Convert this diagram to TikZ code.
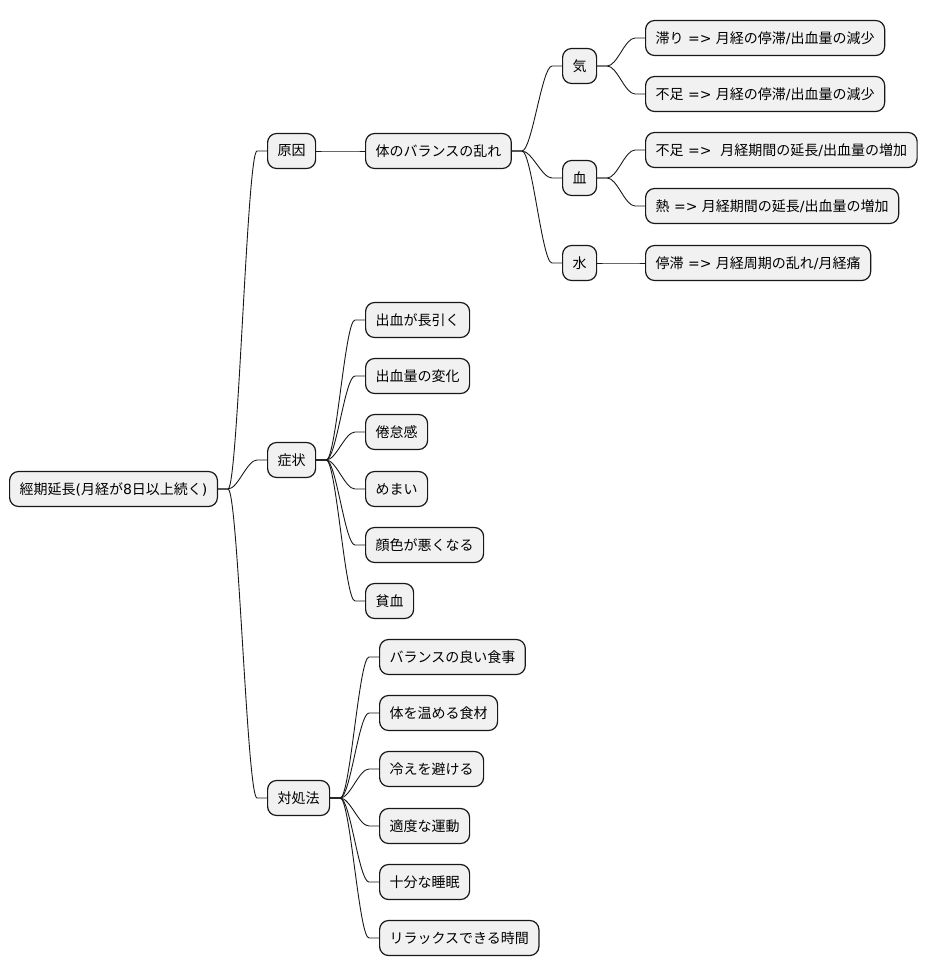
\documentclass[tikz,border=0pt]{standalone}
\usepackage{fontspec}
\setmainfont{Noto Sans CJK JP}
\newfontfamily\latf{DejaVu Sans}
\newcommand\La[1]{{\latf #1}}
\usetikzlibrary{calc}
\definecolor{boxfill}{HTML}{F1F1F1}
\definecolor{boxline}{HTML}{181818}
\tikzset{
  mm/.style={draw=boxline, fill=boxfill, line width=1.2pt, rounded corners=9pt,
    anchor=west, minimum height=35pt, inner xsep=10pt, inner ysep=0pt,
    font=\fontsize{14}{16}\selectfont, text=black},
  edge/.style={draw=boxline, line width=0.9pt}
}
\newcommand\mmedge[2]{%
  \draw[edge] (#1.east) -- ++(10,0) coordinate (tmpa)
    .. controls ($(tmpa)+(10,0)$) and ($(#2.west)+(-20,0)$) .. ($(#2.west)+(-10,0)$)
    -- (#2.west);}
\begin{document}
\begin{tikzpicture}[x=1pt,y=-1pt]
\useasboundingbox (0,0) rectangle (928,978);
% root
\node[mm] (root) at (9,489) {經期延長\La{(}月経が\La{8}日以上続く\La{)}};
% level 1
\node[mm] (gen) at (267,151) {原因};
\node[mm] (sym) at (267,460) {症状};
\node[mm] (tai) at (267,798) {対処法};
% causes
\node[mm] (bal) at (365,151) {体のバランスの乱れ};
\node[mm] (ki) at (562,66) {気};
\node[mm] (ketsu) at (562,178) {血};
\node[mm] (sui) at (562,263) {水};
\node[mm] (k1) at (645,38) {滞り\La{\ =>\ }月経の停滞\La{/}出血量の減少};
\node[mm] (k2) at (645,94) {不足\La{\ =>\ }月経の停滞\La{/}出血量の減少};
\node[mm] (b1) at (645,150) {不足\La{\ =>\ \ }月経期間の延長\La{/}出血量の増加};
\node[mm] (b2) at (645,206) {熱\La{\ =>\ }月経期間の延長\La{/}出血量の増加};
\node[mm] (s1) at (645,263) {停滞\La{\ =>\ }月経周期の乱れ\La{/}月経痛};
% symptoms
\node[mm] (y1) at (365,320) {出血が長引く};
\node[mm] (y2) at (365,376) {出血量の変化};
\node[mm] (y3) at (365,432) {倦怠感};
\node[mm] (y4) at (365,489) {めまい};
\node[mm] (y5) at (365,545) {顔色が悪くなる};
\node[mm] (y6) at (365,601) {貧血};
% remedies
\node[mm] (t1) at (379,657) {バランスの良い食事};
\node[mm] (t2) at (379,713) {体を温める食材};
\node[mm] (t3) at (379,769) {冷えを避ける};
\node[mm] (t4) at (379,826) {適度な運動};
\node[mm] (t5) at (379,882) {十分な睡眠};
\node[mm] (t6) at (379,938) {リラックスできる時間};
% edges
\mmedge{root}{gen}
\mmedge{root}{sym}
\mmedge{root}{tai}
\mmedge{gen}{bal}
\mmedge{bal}{ki}
\mmedge{bal}{ketsu}
\mmedge{bal}{sui}
\mmedge{ki}{k1}
\mmedge{ki}{k2}
\mmedge{ketsu}{b1}
\mmedge{ketsu}{b2}
\mmedge{sui}{s1}
\mmedge{sym}{y1}
\mmedge{sym}{y2}
\mmedge{sym}{y3}
\mmedge{sym}{y4}
\mmedge{sym}{y5}
\mmedge{sym}{y6}
\mmedge{tai}{t1}
\mmedge{tai}{t2}
\mmedge{tai}{t3}
\mmedge{tai}{t4}
\mmedge{tai}{t5}
\mmedge{tai}{t6}
\end{tikzpicture}
\end{document}
